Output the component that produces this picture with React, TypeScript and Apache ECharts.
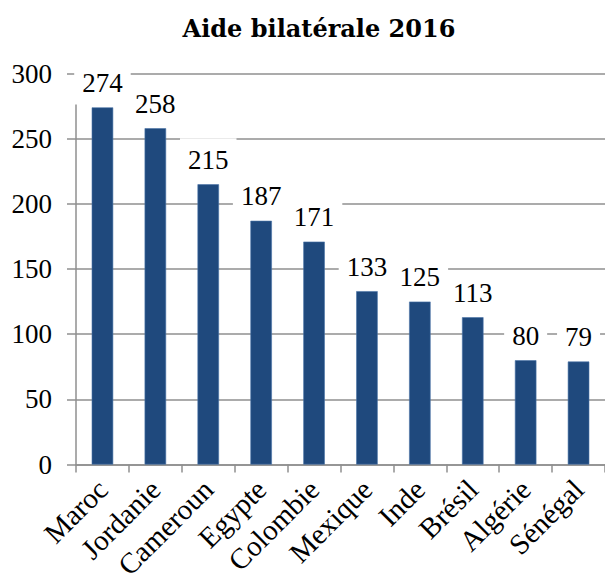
import React, { useEffect, useRef } from "react";
import * as echarts from "echarts";

const title = "Aide bilatérale 2016";
const categories = ["Maroc", "Jordanie", "Cameroun", "Egypte", "Colombie", "Mexique", "Inde", "Brésil", "Algérie", "Sénégal"];
const values = [274, 258, 215, 187, 171, 133, 125, 113, 80, 79];
const yMin = 0;
const yMax = 300;
const yInterval = 50;

const FONT = "Liberation Serif";
const GRID = "#8f8f8f";

export default function App() {
  const ref = useRef<HTMLDivElement>(null);
  useEffect(() => {
    if (!ref.current) return;
    const chart = echarts.init(ref.current, null, { renderer: "svg" });
    chart.setOption({
      animation: false,
      backgroundColor: "#ffffff",
      textStyle: { fontFamily: FONT },
      graphic: [
        {
          type: "text",
          x: 319,
          y: 28,
          style: {
            text: title,
            font: "bold 24px 'DejaVu Serif', serif",
            fill: "#000",
            textAlign: "center",
            textVerticalAlign: "middle",
          },
        },
      ],
      grid: { left: 76, top: 73.5, width: 530, height: 391 },
      xAxis: {
        type: "category",
        data: categories,
        axisLine: { show: true, lineStyle: { color: GRID, width: 1.5 } },
        axisTick: { show: true, interval: 0, length: 8, lineStyle: { color: GRID, width: 1.5 } },
        axisLabel: {
          interval: 0,
          hideOverlap: false,
          rotate: 45,
          margin: 20,
          color: "#000",
          fontFamily: FONT,
          fontSize: 29,
        },
      },
      yAxis: {
        type: "value",
        min: yMin,
        max: yMax,
        interval: yInterval,
        axisLine: { show: true, lineStyle: { color: GRID, width: 1.5 } },
        axisTick: { show: true, length: 9, lineStyle: { color: GRID, width: 1.5 } },
        splitLine: { show: true, lineStyle: { color: GRID, width: 1.5 } },
        axisLabel: {
          margin: 24,
          color: "#000",
          fontFamily: FONT,
          fontSize: 27,
        },
      },
      series: [
        {
          type: "bar",
          data: values,
          barWidth: 21.5,
          itemStyle: { color: "#1f497d", borderColor: "#4a73a8", borderWidth: 0.6 },
          label: {
            show: true,
            position: "top",
            distance: 3,
            color: "#000",
            fontFamily: FONT,
            fontSize: 27,
            backgroundColor: "#ffffff",
            padding: [8, 8, 8, 8],
          },
        },
      ],
    });
    return () => chart.dispose();
  }, []);
  return (
    <div
      ref={ref}
      style={{ position: "fixed", left: 0, top: 0, width: 605, height: 583, background: "#fff" }}
    />
  );
}
